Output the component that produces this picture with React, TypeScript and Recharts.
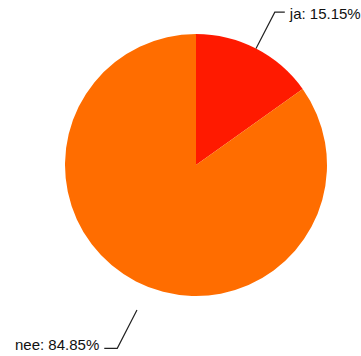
import { PieChart, Pie, Cell } from "recharts";

const names = ["ja", "nee"];
const values = [15.15, 84.85];
const colors = ["#FF1A00", "#FF6D00"];

const data = names.map((name, i) => ({ name, value: values[i] }));

// label line placement per slice (radius start/end, sideways shift)
const labelCfg = [
  { r1: 0, r2: 41, shift: 0, tick: 10, dy: 1 },
  { r1: 25, r2: 68, shift: -14, tick: -13, dy: -4 },
];

const RAD = Math.PI / 180;

function renderLabel(props: any) {
  const { cx, cy, midAngle, outerRadius, index, name, value } = props;
  const cfg = labelCfg[index];
  const ux = Math.cos(-midAngle * RAD);
  const uy = Math.sin(-midAngle * RAD);
  const px = -uy;
  const py = ux;
  const sx = cx + (outerRadius + cfg.r1) * ux + cfg.shift * px;
  const sy = cy + (outerRadius + cfg.r1) * uy + cfg.shift * py;
  const ex = cx + (outerRadius + cfg.r2) * ux + cfg.shift * px;
  const ey = cy + (outerRadius + cfg.r2) * uy + cfg.shift * py;
  const tx = ex + cfg.tick;
  const right = cfg.tick > 0;
  return (
    <g>
      <path
        d={`M${sx},${sy}L${ex},${ey}L${tx},${ey}`}
        stroke="#222"
        strokeWidth={1.2}
        fill="none"
      />
      <text
        x={tx + (right ? 5 : -5)}
        y={ey + cfg.dy}
        textAnchor={right ? "start" : "end"}
        dominantBaseline="central"
        fontSize={15}
        fontFamily="Liberation Sans, Arial, sans-serif"
        fill="#111"
      >
        {`${name}: ${value.toFixed(2)}%`}
      </text>
    </g>
  );
}

export default function App() {
  return (
    <div style={{ position: "absolute", left: 0, top: 0, background: "#fff" }}>
      <PieChart
        width={361}
        height={356}
        margin={{ top: 0, right: 0, bottom: 0, left: 0 }}
      >
        <Pie
          data={data}
          dataKey="value"
          nameKey="name"
          cx={196}
          cy={165}
          outerRadius={131}
          startAngle={90}
          endAngle={-270}
          stroke="none"
          label={renderLabel}
          labelLine={false}
          isAnimationActive={false}
        >
          {data.map((d, i) => (
            <Cell key={d.name} fill={colors[i]} />
          ))}
        </Pie>
      </PieChart>
    </div>
  );
}
